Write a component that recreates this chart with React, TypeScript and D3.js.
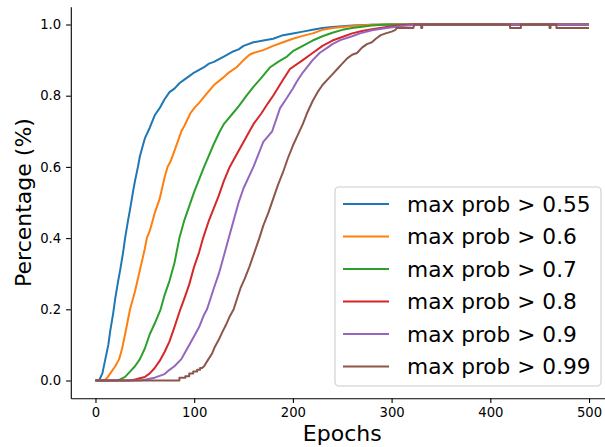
import React, { useRef, useEffect } from 'react';
import * as d3 from 'd3';

// [epoch, fraction] pairs
const p055: [number, number][] = [
  [0, 0], [4, 0.002], [7, 0.02], [10, 0.06], [13, 0.1], [15, 0.14], [18, 0.19], [20, 0.23], [23, 0.28],
  [25, 0.31], [28, 0.36], [30, 0.4], [33, 0.45], [35, 0.48], [38, 0.53], [40, 0.56], [43, 0.6],
  [45, 0.63], [48, 0.66], [50, 0.68], [55, 0.71], [60, 0.745], [65, 0.765], [70, 0.79], [75, 0.81],
  [80, 0.82], [85, 0.835], [90, 0.845], [95, 0.855], [100, 0.865], [110, 0.88], [115, 0.89],
  [120, 0.895], [130, 0.91], [140, 0.925], [145, 0.93], [150, 0.94], [160, 0.95], [170, 0.955],
  [180, 0.96], [190, 0.97], [200, 0.975], [210, 0.98], [220, 0.985], [230, 0.99], [240, 0.993],
  [250, 0.995], [260, 0.997], [280, 0.999], [300, 1], [500, 1],
];
const p06: [number, number][] = [
  [0, 0], [9, 0], [12, 0.008], [15, 0.02], [20, 0.04], [24, 0.06], [27, 0.09], [30, 0.13], [35, 0.2],
  [40, 0.25], [45, 0.31], [50, 0.37], [52, 0.4], [55, 0.42], [60, 0.47], [65, 0.51], [70, 0.57],
  [73, 0.6], [76, 0.615], [80, 0.645], [87, 0.7], [90, 0.715], [96, 0.75], [100, 0.765],
  [105, 0.78], [111, 0.8], [120, 0.83], [129, 0.85], [135, 0.865], [143, 0.88], [150, 0.9],
  [156, 0.915], [160, 0.92], [170, 0.928], [180, 0.94], [190, 0.95], [200, 0.96], [210, 0.968],
  [220, 0.975], [230, 0.985], [240, 0.99], [250, 0.993], [260, 0.996], [280, 0.999], [300, 1], [500, 1],
];
const p07: [number, number][] = [
  [0, 0], [21, 0], [25, 0.003], [30, 0.01], [35, 0.025], [40, 0.04], [45, 0.06], [50, 0.09],
  [55, 0.13], [60, 0.16], [66, 0.2], [70, 0.24], [75, 0.28], [80, 0.33], [85, 0.4], [90, 0.45],
  [95, 0.49], [100, 0.53], [110, 0.6], [120, 0.665], [126, 0.7], [130, 0.72], [139, 0.75],
  [145, 0.77], [153, 0.8], [160, 0.825], [168, 0.85], [177, 0.88], [185, 0.895], [194, 0.91],
  [200, 0.925], [210, 0.94], [220, 0.955], [230, 0.967], [240, 0.977], [250, 0.985],
  [260, 0.99], [270, 0.994], [280, 0.997], [290, 0.999], [300, 1], [500, 1],
];
const p08: [number, number][] = [
  [0, 0], [35, 0], [40, 0.003], [50, 0.01], [55, 0.02], [60, 0.035], [65, 0.055], [70, 0.08],
  [75, 0.11], [80, 0.15], [86, 0.2], [90, 0.23], [95, 0.27], [100, 0.32], [105, 0.36], [109, 0.4],
  [115, 0.45], [120, 0.485], [125, 0.52], [130, 0.56], [136, 0.6], [140, 0.62], [150, 0.67],
  [156, 0.7], [160, 0.72], [168, 0.75], [175, 0.78], [180, 0.8], [190, 0.845], [197, 0.875],
  [210, 0.9], [220, 0.92], [230, 0.94], [240, 0.955], [250, 0.965], [260, 0.975], [270, 0.982],
  [280, 0.987], [290, 0.991], [300, 0.995], [310, 0.998], [320, 1], [500, 1],
];
const p09: [number, number][] = [
  [0, 0], [45, 0], [50, 0.002], [60, 0.008], [70, 0.018], [75, 0.03], [80, 0.04], [87, 0.06],
  [90, 0.075], [95, 0.1], [100, 0.125], [105, 0.15], [110, 0.185], [113, 0.2], [120, 0.26],
  [125, 0.3], [130, 0.35], [135, 0.4], [140, 0.45], [145, 0.5], [150, 0.54], [160, 0.6],
  [170, 0.67], [179, 0.7], [187, 0.765], [193, 0.79], [200, 0.82], [204, 0.84], [210, 0.865],
  [220, 0.9], [227, 0.92], [235, 0.935], [240, 0.945], [248, 0.956], [260, 0.967], [268, 0.975],
  [280, 0.984], [295, 0.99], [310, 0.996], [320, 0.998], [330, 0.999], [340, 1], [500, 1],
];
const p099: [number, number][] = [
  [0, 0], [85, 0], [85, 0.008], [91, 0.008], [91, 0.012], [95, 0.012], [95, 0.02], [99, 0.02],
  [99, 0.025], [103, 0.025], [103, 0.03], [106, 0.03], [106, 0.035], [108, 0.035], [110, 0.04],
  [114, 0.058], [118, 0.075], [121, 0.095], [125, 0.115], [128, 0.133], [132, 0.155],
  [136, 0.18], [140, 0.2], [143, 0.226], [147, 0.26], [151, 0.285], [156, 0.32], [161, 0.36],
  [166, 0.4], [170, 0.435], [175, 0.47], [180, 0.51], [185, 0.55], [190, 0.585], [195, 0.625],
  [200, 0.66], [205, 0.69], [210, 0.72], [215, 0.755], [220, 0.785], [225, 0.81], [230, 0.83],
  [235, 0.845], [240, 0.86], [245, 0.875], [250, 0.89], [255, 0.905], [260, 0.915], [265, 0.92],
  [270, 0.935], [275, 0.945], [280, 0.95], [284, 0.96], [289, 0.97], [294, 0.975], [300, 0.98],
  [304, 0.985], [305, 0.99], [322, 0.99], [323, 1], [330, 1], [330, 0.99], [331, 0.99], [331, 1],
  [420, 1], [420, 0.99], [431, 0.99], [431, 1], [460, 1], [460, 0.99], [461, 0.99], [461, 1],
  [467, 1], [467, 0.99], [500, 0.99],
];

const labels = ['max prob > 0.55', 'max prob > 0.6', 'max prob > 0.7', 'max prob > 0.8', 'max prob > 0.9', 'max prob > 0.99'];
const colors = ['#1f77b4', '#ff7f0e', '#2ca02c', '#d62728', '#9467bd', '#8c564b'];
const xTicks = [0, 100, 200, 300, 400, 500];
const yTicks = [0, 0.2, 0.4, 0.6, 0.8, 1.0];

const W = 605, H = 447;
const font = 'DejaVu Sans, sans-serif';

const App = () => {
  const svgRef = useRef<SVGSVGElement>(null);

  const draw = (el: SVGSVGElement) => {
    const svg = d3.select(el);
    svg.selectAll('*').remove();

    const x = d3.scaleLinear().domain([-25, 525]).range([70.8, 613.7]);
    const y = d3.scaleLinear().domain([-0.05, 1.05]).range([398.3, 6.7]);

    const xAxis = svg.append('g')
      .attr('transform', `translate(0, ${y.range()[0]})`)
      .call(d3.axisBottom(x).tickValues(xTicks).tickSize(4.7).tickSizeOuter(0).tickPadding(5));
    const yAxis = svg.append('g')
      .attr('transform', `translate(${x.range()[0]}, 0)`)
      .call(d3.axisLeft(y).tickValues(yTicks).tickFormat(d3.format('.1f')).tickSize(4.7).tickSizeOuter(0).tickPadding(5));

    [xAxis, yAxis].forEach((g) => {
      g.selectAll('text').style('font-family', font).style('font-size', '13.2px').attr('fill', '#000');
      g.selectAll('line').attr('stroke', '#000').attr('stroke-width', 1.1);
      g.select('.domain').attr('stroke', '#000').attr('stroke-width', 1.1);
    });

    const series = [p055, p06, p07, p08, p09, p099];
    const line = d3.line<[number, number]>()
      .x((d) => x(d[0]))
      .y((d) => y(d[1]));
    series.forEach((pts, i) => {
      svg.append('path')
        .datum(pts)
        .attr('d', line)
        .attr('fill', 'none')
        .attr('stroke', colors[i])
        .attr('stroke-width', 2)
        .attr('stroke-linejoin', 'round');
    });

    svg.append('text')
      .attr('x', (70.8 + 613.7) / 2)
      .attr('y', 441)
      .attr('text-anchor', 'middle')
      .style('font-family', font)
      .style('font-size', '22px')
      .text('Epochs');

    svg.append('text')
      .attr('transform', `translate(30.5, ${(6.7 + 398.3) / 2}) rotate(-90)`)
      .attr('text-anchor', 'middle')
      .style('font-family', font)
      .style('font-size', '22px')
      .text('Percentage (%)');

    // legend
    const lg = svg.append('g');
    lg.append('rect')
      .attr('x', 335).attr('y', 187).attr('width', 266).attr('height', 199)
      .attr('rx', 4)
      .attr('fill', 'white').attr('fill-opacity', 0.8)
      .attr('stroke', '#cccccc').attr('stroke-width', 1.1);
    labels.forEach((lab, i) => {
      const cy = 204 + i * 32.5;
      lg.append('line')
        .attr('x1', 343).attr('x2', 389).attr('y1', cy).attr('y2', cy)
        .attr('stroke', colors[i]).attr('stroke-width', 2);
      lg.append('text')
        .attr('x', 407).attr('y', cy + 7.8)
        .style('font-family', font)
        .style('font-size', '21.7px')
        .text(lab);
    });
  };

  useEffect(() => {
    if (svgRef.current) draw(svgRef.current);
  }, [svgRef]);

  return (
    <svg ref={svgRef} width={W} height={H}
      style={{ position: 'absolute', left: 0, top: 0, background: 'white' }} />
  );
};

export default App;
